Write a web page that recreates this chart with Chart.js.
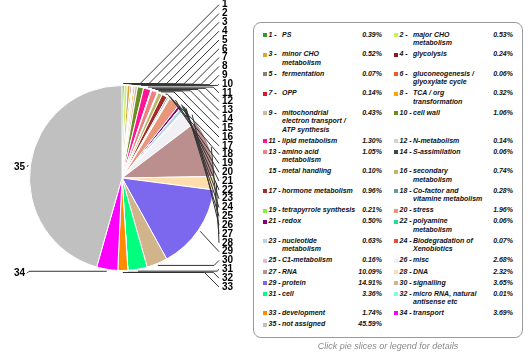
<!DOCTYPE html>
<html>
<head>
<meta charset="utf-8">
<script src="https://cdn.jsdelivr.net/npm/chart.js@4.4.1/dist/chart.umd.min.js"></script>
<style>
  body { margin: 0; background: #fff; }
  #wrap { position: relative; width: 530px; height: 360px; overflow: hidden; }
  #pie { position: absolute; left: 0; top: 0; }
  #legend {
    position: absolute; left: 253px; top: 22px; width: 270px; height: 316px;
    box-sizing: border-box; border: 1px solid #9a9a9a; border-radius: 8px;
    padding: 6.5px 0 0 9px; background: #fff;
    font: italic bold 7px/8.4px "Liberation Sans", Arial, sans-serif; color: #111;
  }
  .row { display: flex; padding: 1.35px 0; }
  .half { display: flex; width: 119px; flex: none; }
  .half + .half { margin-left: 12px; }
  .sw { width: 4px; height: 4px; margin: 2.2px 1.5px 0 0; flex: none; }
  .num { width: 13.5px; flex: none; white-space: nowrap; }
  .name { width: 74.3px; flex: none; }
  .val { flex: 1; text-align: right; white-space: nowrap; }
  #note {
    position: absolute; left: 253px; width: 270px; top: 341px; text-align: center;
    font: italic 9px "Liberation Sans", Arial, sans-serif; color: #8a8a8a;
  }
</style>
</head>
<body>
<div id="wrap">
  <canvas id="pie" width="530" height="360"></canvas>
  <div id="legend"></div>
  <div id="note">Click pie slices or legend for details</div>
</div>
<script>
// categorias (MapMan bins) e percentagens
const categories = [
  "PS", "major CHO metabolism", "minor CHO metabolism", "glycolysis", "fermentation",
  "gluconeogenesis / glyoxylate cycle", "OPP", "TCA / org transformation",
  "mitochondrial electron transport / ATP synthesis", "cell wall", "lipid metabolism",
  "N-metabolism", "amino acid metabolism", "S-assimilation", "metal handling",
  "secondary metabolism", "hormone metabolism", "Co-factor and vitamine metabolism",
  "tetrapyrrole synthesis", "stress", "redox", "polyamine metabolism",
  "nucleotide metabolism", "Biodegradation of Xenobiotics", "C1-metabolism", "misc",
  "RNA", "DNA", "protein", "signalling", "cell", "micro RNA, natural antisense etc",
  "development", "transport", "not assigned"
];
const percents = [
  0.39, 0.53, 0.52, 0.24, 0.07, 0.06, 0.14, 0.32, 0.43, 1.06, 1.30, 0.14, 1.05, 0.06,
  0.10, 0.74, 0.96, 0.28, 0.21, 1.96, 0.50, 0.06, 0.63, 0.07, 0.16, 2.68, 10.09, 2.32,
  14.91, 3.65, 3.36, 0.01, 1.74, 3.69, 45.59
];
const colors = [
  "#339933", "#c8f050", "#d4a83a", "#8b1a1a", "#808080", "#e85a28", "#dc143c", "#ffa500",
  "#c9b9a6", "#6b8e23", "#ff1493", "#d3d3d3", "#f08080", "#2f4f4f", "#f0fff0", "#bdb76b",
  "#a52a2a", "#5f9ea0", "#88ee44", "#e9967a", "#800080", "#22dd99", "#add8e6", "#e0503a",
  "#d8bfd8", "#f0f0f5", "#bc8f8f", "#ffdead", "#7b68ee", "#d2b48c", "#00ff7f", "#7fffd4",
  "#ff8c00", "#ff00ff", "#c0c0c0"
];

// legenda em html, duas colunas
const legend = document.getElementById("legend");
function item(i) {
  const h = document.createElement("div");
  h.className = "half";
  if (i < categories.length) {
    h.innerHTML =
      '<span class="sw" style="background:' + colors[i] + '"></span>' +
      '<span class="num">' + (i + 1) + ' - </span>' +
      '<span class="name">' + categories[i] + '</span>' +
      '<span class="val">' + percents[i].toFixed(2) + '%</span>';
  }
  return h;
}
for (let i = 0; i < categories.length; i += 2) {
  const row = document.createElement("div");
  row.className = "row";
  row.appendChild(item(i));
  row.appendChild(item(i + 1));
  legend.appendChild(row);
}

// rótulos numerados com linhas de chamada
const RIGHT_X = 219, LEFT_X = 27;
const sliceLabels = {
  id: "sliceLabels",
  afterDatasetsDraw(chart) {
    const ctx = chart.ctx;
    const arcs = chart.getDatasetMeta(0).data;
    ctx.save();
    ctx.font = "bold 10px 'Liberation Sans Narrow', 'Liberation Sans', sans-serif";
    ctx.textBaseline = "middle";
    ctx.strokeStyle = "#333";
    ctx.fillStyle = "#000";
    ctx.lineWidth = 1;
    let n = 0;
    arcs.forEach((arc, i) => {
      const p = arc.getProps(["x", "y", "startAngle", "endAngle", "outerRadius"], true);
      const a = (p.startAngle + p.endAngle) / 2;
      const ax = p.x + Math.cos(a) * (p.outerRadius + 2);
      const ay = p.y + Math.sin(a) * (p.outerRadius + 2);
      ctx.beginPath();
      ctx.moveTo(ax, ay);
      if (Math.cos(a) >= 0) {
        const ly = 4.7 + n * 8.82;
        n++;
        const ex = RIGHT_X - Math.abs(ly - ay);
        if (ex > ax) ctx.lineTo(ex, ay);
        ctx.lineTo(RIGHT_X, ly);
        ctx.stroke();
        ctx.textAlign = "left";
        ctx.fillText(String(i + 1), RIGHT_X + 3, ly);
      } else {
        const ly = ay + 2;
        const ex = LEFT_X + Math.abs(ly - ay);
        if (ex < ax) ctx.lineTo(ex, ay);
        ctx.lineTo(LEFT_X, ly);
        ctx.stroke();
        ctx.textAlign = "right";
        ctx.fillText(String(i + 1), LEFT_X - 2, ly);
      }
    });
    ctx.restore();
  }
};

new Chart(document.getElementById("pie"), {
  type: "pie",
  data: {
    labels: categories,
    datasets: [{
      data: percents,
      backgroundColor: colors,
      borderColor: "#fff",
      borderWidth: 1
    }]
  },
  options: {
    responsive: false,
    animation: false,
    layout: { padding: { left: 29, top: 85, right: 315, bottom: 89 } },
    plugins: { legend: { display: false }, tooltip: { enabled: true } }
  },
  plugins: [sliceLabels]
});
</script>
</body>
</html>
